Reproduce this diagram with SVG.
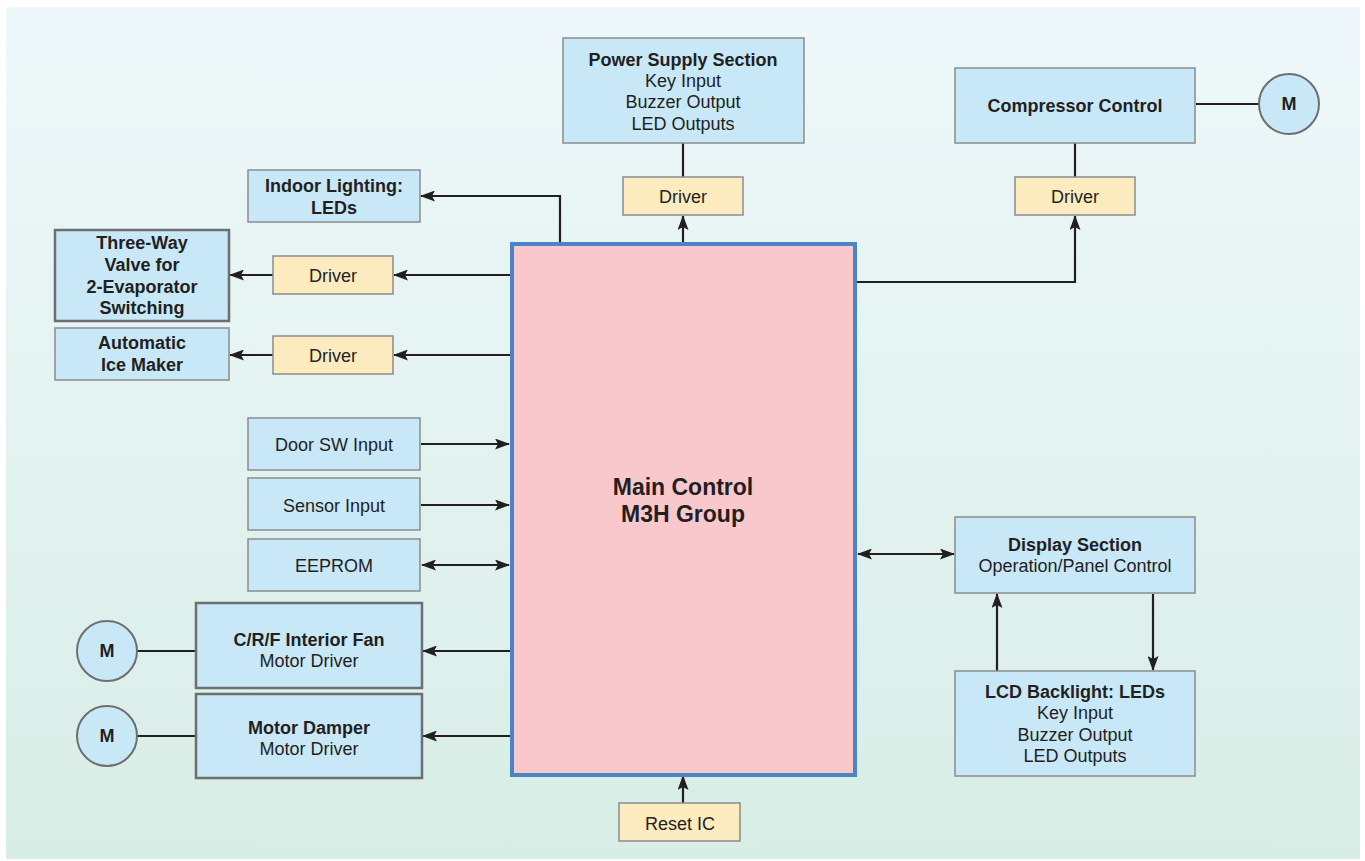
<svg xmlns="http://www.w3.org/2000/svg" width="1365" height="861" viewBox="0 0 1365 861">
<defs>
<linearGradient id="bg" x1="0" y1="0" x2="0" y2="1">
<stop offset="0" stop-color="#eef8fa"/>
<stop offset="1" stop-color="#d8ede6"/>
</linearGradient>
<marker id="ah" markerWidth="15" markerHeight="11" refX="14" refY="5.5" orient="auto-start-reverse" markerUnits="userSpaceOnUse">
<path d="M0,0 L15,5.5 L0,11 L3,5.5 Z" fill="#231f20"/>
</marker>
<style>
.box{fill:#c8e8f8;stroke:#8a8c8e;stroke-width:1.5}
.boxt{fill:#c8e8f8;stroke:#6d6e70;stroke-width:2.5}
.drv{fill:#fcebbf;stroke:#8a8c8e;stroke-width:1.5}
.mot{fill:#c8e8f8;stroke:#6d6e70;stroke-width:2}
.main{fill:#f9c8cc;stroke:#4a86c5;stroke-width:4}
text{font-family:"Liberation Sans",Arial,sans-serif;font-size:18px;fill:#231f20;text-anchor:middle}
.b{font-weight:bold}
.big{font-size:23px;font-weight:bold}
.c{fill:none;stroke:#231f20;stroke-width:2.2}
</style>
</defs>
<rect x="0" y="0" width="1365" height="861" fill="#ffffff"/>
<rect x="6" y="7" width="1354" height="852" fill="url(#bg)"/>

<g id="connectors">
<line class="c" x1="683" y1="143" x2="683" y2="177"/>
<line class="c" x1="683" y1="242" x2="683" y2="216" marker-end="url(#ah)"/>
<line class="c" x1="1075" y1="143" x2="1075" y2="177"/>
<polyline class="c" points="857,282 1075,282 1075,216" marker-end="url(#ah)"/>
<line class="c" x1="1196" y1="104" x2="1259" y2="104"/>
<polyline class="c" points="560,242 560,196 421,196" marker-end="url(#ah)"/>
<line class="c" x1="510" y1="275" x2="394" y2="275" marker-end="url(#ah)"/>
<line class="c" x1="273" y1="275" x2="230" y2="275" marker-end="url(#ah)"/>
<line class="c" x1="510" y1="355" x2="394" y2="355" marker-end="url(#ah)"/>
<line class="c" x1="273" y1="355" x2="230" y2="355" marker-end="url(#ah)"/>
<line class="c" x1="421" y1="444" x2="509" y2="444" marker-end="url(#ah)"/>
<line class="c" x1="421" y1="505" x2="509" y2="505" marker-end="url(#ah)"/>
<line class="c" x1="422" y1="565" x2="509" y2="565" marker-start="url(#ah)" marker-end="url(#ah)"/>
<line class="c" x1="510" y1="651" x2="423" y2="651" marker-end="url(#ah)"/>
<line class="c" x1="510" y1="736" x2="423" y2="736" marker-end="url(#ah)"/>
<line class="c" x1="137" y1="651" x2="196" y2="651"/>
<line class="c" x1="137" y1="736" x2="196" y2="736"/>
<line class="c" x1="683" y1="803" x2="683" y2="776" marker-end="url(#ah)"/>
<line class="c" x1="858" y1="554" x2="954" y2="554" marker-start="url(#ah)" marker-end="url(#ah)"/>
<line class="c" x1="997" y1="671" x2="997" y2="594" marker-end="url(#ah)"/>
<line class="c" x1="1153" y1="594" x2="1153" y2="670" marker-end="url(#ah)"/>
</g>

<g id="main">
<rect class="main" x="512" y="244" width="343" height="531"/>
<text class="big" x="683" y="495">Main Control</text>
<text class="big" x="683" y="522">M3H Group</text>
</g>

<g id="power-supply">
<rect class="box" x="563" y="38" width="241" height="105"/>
<text class="b" x="683" y="66">Power Supply Section</text>
<text x="683" y="87">Key Input</text>
<text x="683" y="108">Buzzer Output</text>
<text x="683" y="130">LED Outputs</text>
</g>
<g id="driver-power">
<rect class="drv" x="623" y="177" width="120" height="38"/>
<text x="683" y="203">Driver</text>
</g>

<g id="compressor">
<rect class="box" x="955" y="68" width="240" height="75"/>
<text class="b" x="1075" y="112">Compressor Control</text>
</g>
<g id="motor-compressor">
<circle class="mot" cx="1289" cy="104" r="30"/>
<text class="b" x="1289" y="110">M</text>
</g>
<g id="driver-compressor">
<rect class="drv" x="1015" y="177" width="120" height="38"/>
<text x="1075" y="203">Driver</text>
</g>

<g id="indoor-lighting">
<rect class="box" x="248" y="170" width="172" height="52"/>
<text class="b" x="334" y="192">Indoor Lighting:</text>
<text class="b" x="334" y="214">LEDs</text>
</g>

<g id="three-way-valve">
<rect class="boxt" x="55" y="230" width="174" height="91"/>
<text class="b" x="142" y="249">Three-Way</text>
<text class="b" x="142" y="271">Valve for</text>
<text class="b" x="142" y="293">2-Evaporator</text>
<text class="b" x="142" y="314">Switching</text>
</g>
<g id="driver-valve">
<rect class="drv" x="273" y="256" width="120" height="38"/>
<text x="333" y="282">Driver</text>
</g>

<g id="ice-maker">
<rect class="box" x="55" y="328" width="174" height="52"/>
<text class="b" x="142" y="349">Automatic</text>
<text class="b" x="142" y="371">Ice Maker</text>
</g>
<g id="driver-ice">
<rect class="drv" x="273" y="336" width="120" height="38"/>
<text x="333" y="362">Driver</text>
</g>

<g id="door-sw">
<rect class="box" x="248" y="418" width="172" height="52"/>
<text x="334" y="451">Door SW Input</text>
</g>
<g id="sensor">
<rect class="box" x="248" y="478" width="172" height="52"/>
<text x="334" y="512">Sensor Input</text>
</g>
<g id="eeprom">
<rect class="box" x="248" y="539" width="172" height="52"/>
<text x="334" y="572">EEPROM</text>
</g>

<g id="fan-driver">
<rect class="boxt" x="196" y="603" width="226" height="85"/>
<text class="b" x="309" y="646">C/R/F Interior Fan</text>
<text x="309" y="667">Motor Driver</text>
</g>
<g id="motor-fan">
<circle class="mot" cx="107" cy="651" r="30"/>
<text class="b" x="107" y="657">M</text>
</g>

<g id="damper-driver">
<rect class="boxt" x="196" y="694" width="226" height="84"/>
<text class="b" x="309" y="734">Motor Damper</text>
<text x="309" y="755">Motor Driver</text>
</g>
<g id="motor-damper">
<circle class="mot" cx="107" cy="736" r="30"/>
<text class="b" x="107" y="742">M</text>
</g>

<g id="reset-ic">
<rect class="drv" x="619" y="803" width="121" height="38"/>
<text x="680" y="830">Reset IC</text>
</g>

<g id="display">
<rect class="box" x="955" y="517" width="240" height="76"/>
<text class="b" x="1075" y="551">Display Section</text>
<text x="1075" y="572">Operation/Panel Control</text>
</g>

<g id="lcd-backlight">
<rect class="box" x="955" y="671" width="240" height="105"/>
<text class="b" x="1075" y="698">LCD Backlight: LEDs</text>
<text x="1075" y="719">Key Input</text>
<text x="1075" y="741">Buzzer Output</text>
<text x="1075" y="762">LED Outputs</text>
</g>
</svg>
